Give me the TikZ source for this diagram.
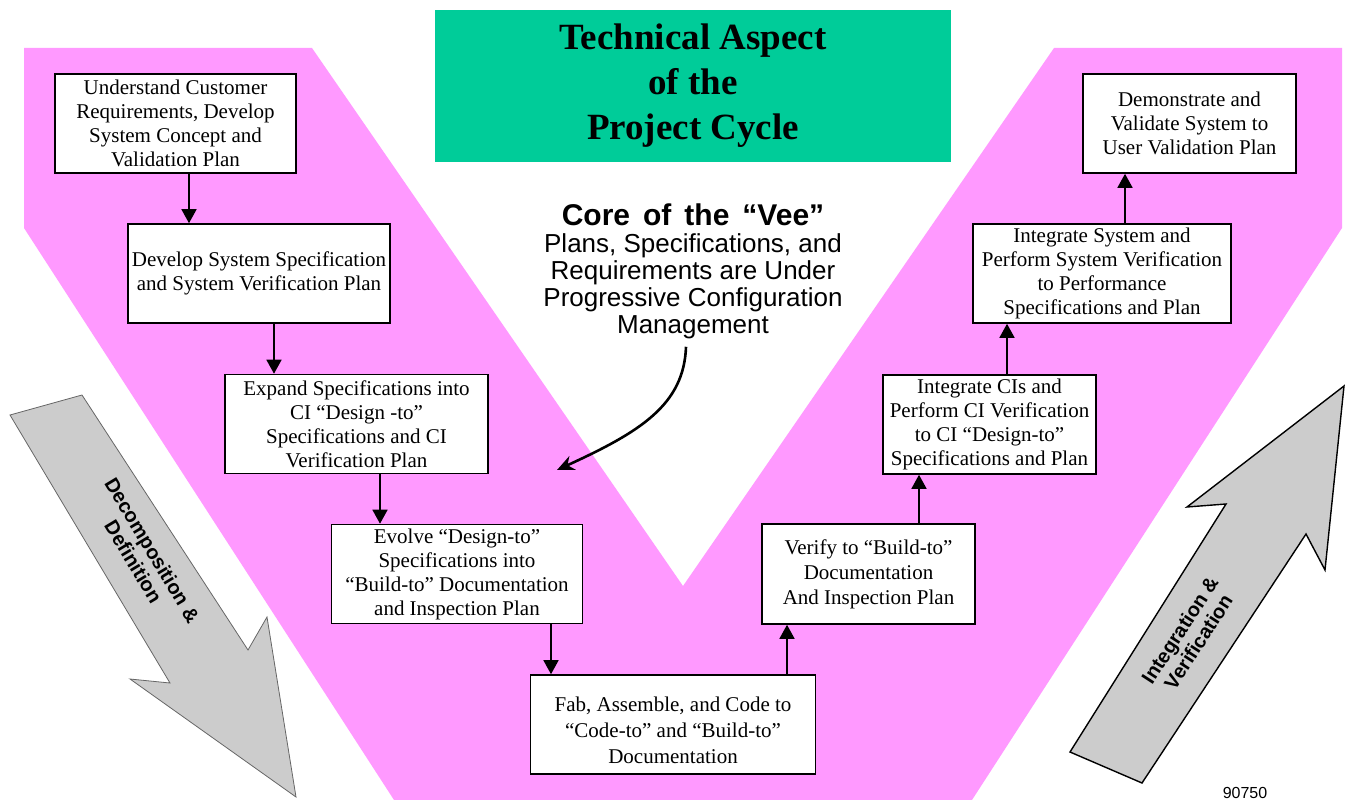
\documentclass[tikz,border=0pt]{standalone}
\usepackage{fontspec}
\setmainfont{Liberation Serif}
\newfontfamily\arial{Liberation Sans}
\usetikzlibrary{arrows.meta}
\definecolor{vpink}{RGB}{255,153,255}
\definecolor{vgreen}{RGB}{0,204,153}
\definecolor{vgray}{RGB}{204,204,204}
\begin{document}
\begin{tikzpicture}[x=1pt,y=-1pt,
  box/.style={draw=black, line width=1.6pt, fill=white, inner sep=0pt, align=center, font=\fontsize{21}{24}\selectfont},
  arr/.style={line width=1.6pt, -{Triangle[width=15pt,length=14pt]}},
  bigarrow/.style={fill=vgray, line join=miter},
  arrowtext/.style={font=\arial\bfseries\fontsize{20}{22}\selectfont, align=center},
]
\useasboundingbox (0,0) rectangle (1345,800);
% pink Vee
\fill[vpink] (24,48) -- (312,48) -- (683,586) -- (1054,48) -- (1342,48) -- (1342,228) -- (972,800) -- (394,800) -- (24,228) -- cycle;
% title
\node[fill=vgreen, minimum width=516pt, minimum height=152pt, inner sep=0pt, align=center,
      font=\bfseries\fontsize{37}{45}\selectfont] (title) at (693,86) {Technical Aspect\\of the\\Project Cycle};
% boxes
\node[box, minimum width=241pt, minimum height=99pt] (b1) at (175.5,123.5) {Understand Customer\\Requirements, Develop\\System Concept and\\Validation Plan};
\node[box, minimum width=262pt, minimum height=99pt] (b2) at (259,273.5) {Develop System Specification\\and System Verification Plan};
\node[box, minimum width=263pt, minimum height=99pt] (b3) at (356.5,424) {Expand Specifications into\\CI “Design -to”\\Specifications and CI\\Verification Plan};
\node[box, minimum width=251pt, minimum height=99pt] (b4) at (457,574) {Evolve “Design-to”\\Specifications into\\“Build-to” Documentation\\and Inspection Plan};
\node[box, minimum width=285pt, minimum height=99pt, font=\fontsize{21}{26}\selectfont] (b5) at (673,724.5) {\rule{0pt}{27pt}Fab, Assemble, and Code to\\“Code-to” and “Build-to”\\Documentation};
\node[box, minimum width=213pt, minimum height=100pt, font=\fontsize{21}{25}\selectfont] (b6) at (868.5,574) {Verify to “Build-to”\\Documentation\\And Inspection Plan};
\node[box, minimum width=213pt, minimum height=99pt] (b7) at (989.5,424.5) {Integrate CIs and\\Perform CI Verification\\to CI “Design-to”\\Specifications and Plan};
\node[box, minimum width=258pt, minimum height=99pt] (b8) at (1102,273.5) {Integrate System and\\Perform System Verification\\to Performance\\Specifications and Plan};
\node[box, minimum width=213pt, minimum height=99pt] (b9) at (1189.5,123.5) {Demonstrate and\\Validate System to\\User Validation Plan};
% connectors
\draw[arr] (b1.south -| 189,0) -- (b2.north -| 189,0);
\draw[arr] (b2.south -| 274,0) -- (b3.north -| 274,0);
\draw[arr] (b3.south -| 380,0) -- (b4.north -| 380,0);
\draw[arr] (b4.south -| 551,0) -- (b5.north -| 551,0);
\draw[arr] (b5.north -| 787,0) -- (b6.south -| 787,0);
\draw[arr] (b6.north -| 919,0) -- (b7.south -| 919,0);
\draw[arr] (b7.north -| 1007,0) -- (b8.south -| 1007,0);
\draw[arr] (b8.north -| 1125,0) -- (b9.south -| 1125,0);
% core text
\node[font=\arial\fontsize{26}{27}\selectfont, align=center, inner sep=0pt] (core) at (693,271)
  {{\bfseries\fontsize{30}{27}\selectfont\spaceskip=13pt Core of the “Vee”}\\Plans, Specifications, and\\Requirements are Under\\Progressive Configuration\\Management};
\coordinate (coreend) at (557,470);
\draw[line width=2.6pt, -{Stealth[width=15pt,length=17pt]}] ([yshift=-8pt]core.south -| 686,0) .. controls (684,405) and (640,432) .. (coreend);
% big gray arrows
\filldraw[bigarrow, draw=black!60, line width=0.8pt] (10,415) -- (82,395) -- (248,650) -- (267,617) -- (296,797) -- (130,679) -- (170,683) -- cycle;
\node[arrowtext, rotate=-59] (dec) at (143,556) {Decomposition \&\\Definition};
\filldraw[bigarrow, draw=black, line width=1.4pt] (1070,752) -- (1142,783) -- (1306,534) -- (1325,570) -- (1344,386) -- (1187,507) -- (1226,504) -- cycle;
\node[arrowtext, rotate=57] (int) at (1189,636) {Integration \&\\Verification};
% figure number
\node[font=\arial\fontsize{16}{16}\selectfont, inner sep=0pt] (num) at (1245,793) {90750};
\end{tikzpicture}
\end{document}
